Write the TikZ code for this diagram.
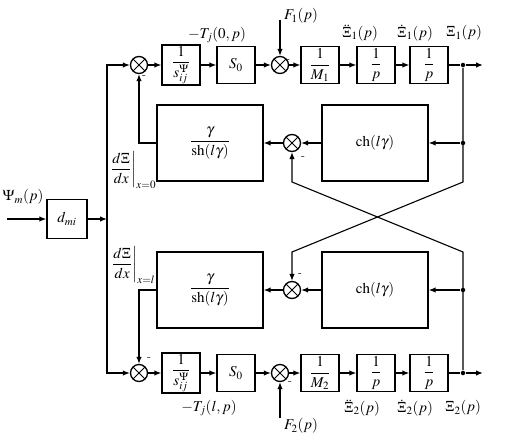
\documentclass[tikz,border=0pt]{standalone}
\usepackage{amsmath}
\usepackage{mathptmx}
\usetikzlibrary{arrows.meta,calc}

\begin{document}
\begin{tikzpicture}[x=1pt,y=-1pt,>={Latex[length=7pt,width=5.5pt]},line width=1.3pt,
    font=\fontsize{15}{17}\selectfont,
    blk/.style={draw,minimum width=38pt,minimum height=37pt,inner sep=1pt},
    bigblk/.style={draw,minimum width=106pt,minimum height=76pt},
    summ/.style={draw,circle,minimum size=17pt,inner sep=0pt,
        path picture={\draw[line width=1pt]
            (path picture bounding box.north west)--(path picture bounding box.south east)
            (path picture bounding box.north east)--(path picture bounding box.south west);}},
    dot/.style={circle,fill,inner sep=0pt,minimum size=4.5pt},
    sgn/.style={inner sep=0pt,font=\fontsize{12}{12}\selectfont\bfseries}]
    \useasboundingbox (0,0) rectangle (506,444);
    % upper chain
    \node[summ] (sa1) at (139,65) {};
    \node[blk] (s1) at (181,65) {$\dfrac{1}{s_{ij}^{\Psi}}$};
    \node[blk] (z1) at (236,65) {$S_0$};
    \node[summ] (sb1) at (280,65) {};
    \node[blk] (m1) at (320,65) {$\dfrac{1}{M_1}$};
    \node[blk] (pa1) at (376,65) {$\dfrac{1}{p}$};
    \node[blk] (pb1) at (429,65) {$\dfrac{1}{p}$};
    \node[dot] (o1) at (463,65) {};
    \coordinate (e1) at (483,65);
    % lower chain
    \node[summ] (sa2) at (139,373) {};
    \node[blk] (s2) at (181,373) {$\dfrac{1}{s_{ij}^{\Psi}}$};
    \node[blk] (z2) at (236,373) {$S_0$};
    \node[summ] (sb2) at (280,373) {};
    \node[blk] (m2) at (320,373) {$\dfrac{1}{M_2}$};
    \node[blk] (pa2) at (376,373) {$\dfrac{1}{p}$};
    \node[blk] (pb2) at (429,373) {$\dfrac{1}{p}$};
    \node[dot] (o2) at (463,373) {};
    \coordinate (e2) at (483,373);
    % middle blocks
    \node[bigblk] (g1) at (210,143) {$\dfrac{\gamma}{\mathrm{sh}(l\gamma)}$};
    \node[summ] (sc1) at (292,143) {};
    \node[bigblk] (c1) at (375,143) {$\mathrm{ch}(l\gamma)$};
    \node[dot] (d1) at (463,143) {};
    \node[bigblk] (g2) at (210,290) {$\dfrac{\gamma}{\mathrm{sh}(l\gamma)}$};
    \node[summ] (sc2) at (292,290) {};
    \node[bigblk] (c2) at (375,290) {$\mathrm{ch}(l\gamma)$};
    \node[dot] (d2) at (463,290) {};
    % input
    \node[draw,minimum width=40pt,minimum height=39pt] (dm) at (67,219) {$d_{mi}$};
    \coordinate (in) at (7,219);
    \coordinate (jn) at (107,219);
    \node (psi) at (23,197) {$\Psi_m(p)$};
    % forces
    \coordinate (ft1) at (280,20);
    \coordinate (ft2) at (280,418);
    \node (f1) at (301,16) {$F_1(p)$};
    \node (f2) at (301,426) {$F_2(p)$};
    % crossing corners
    \coordinate (k1) at (463,182);
    \coordinate (k2) at (292,252);
    \coordinate (k3) at (463,252);
    \coordinate (k4) at (292,182);

    \draw[->] (in) -- (dm);
    \draw[->] (dm) -- (jn);
    \draw[->] (jn) |- (sa1);
    \draw[->] (jn) |- (sa2);
    \foreach \r in {1,2}{
        \draw[->] (sa\r) -- (s\r);
        \draw[->] (s\r) -- (z\r);
        \draw[->] (z\r) -- (sb\r);
        \draw[->] (sb\r) -- (m\r);
        \draw[->] (m\r) -- (pa\r);
        \draw[->] (pa\r) -- (pb\r);
        \draw (pb\r) -- (o\r);
        \draw[->] (o\r) -- (e\r);
        \draw[->] (d\r) -- (c\r);
        \draw[->] (c\r) -- (sc\r);
        \draw[->] (sc\r) -- (g\r);
    }
    \draw[->] (g1.west) -| (sa1.south);
    \draw[->] (g2.west) -| (sa2.north);
    \draw[->] (ft1) -- (sb1);
    \draw[->] (ft2) -- (sb2);
    \draw[->,line width=1.1pt] (o1) -- (k1) -- (k2) -- (sc2);
    \draw[->,line width=1.1pt] (o2) -- (k3) -- (k4) -- (sc1);

    % signals
    \node at (217,35) {$-T_j(0,p)$};
    \node at (360,33) {$\ddot{\Xi}_1(p)$};
    \node at (415,33) {$\dot{\Xi}_1(p)$};
    \node at (464,33) {$\Xi_1(p)$};
    \node at (209,408) {$-T_j(l,p)$};
    \node at (362,408) {$\ddot{\Xi}_2(p)$};
    \node at (415,408) {$\dot{\Xi}_2(p)$};
    \node at (463,408) {$\Xi_2(p)$};
    \node at (133,170) {$\left.\dfrac{d\Xi}{dx}\right|_{x=0}$};
    \node at (133,265) {$\left.\dfrac{d\Xi}{dx}\right|_{x=l}$};
    % signs
    \node[sgn] at (144,77) {-};
    \node[sgn] at (288,61) {-};
    \node[sgn] at (303,158) {-};
    \node[sgn] at (300,275) {-};
    \node[sgn] at (149,359) {-};
    \node[sgn] at (290,383) {-};
\end{tikzpicture}
\end{document}
